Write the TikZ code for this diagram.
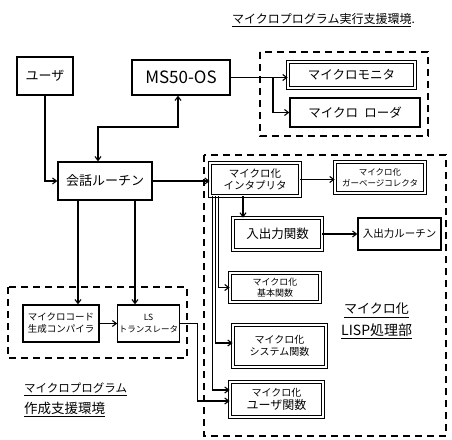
\documentclass[tikz,border=0pt]{standalone}
\usepackage{fontspec}
\setmainfont{Noto Sans CJK JP}
\usetikzlibrary{arrows.meta}
\tikzset{
  box/.style={draw, line width=1.2pt, inner sep=1pt, align=center, font=\fontsize{9}{11}\selectfont},
  dbox/.style={box, double, double distance=1.6pt, line width=0.8pt},
  grp/.style={draw, line width=1.3pt, dash pattern=on 7pt off 5pt},
  conn/.style={line width=1.1pt, -{Straight Barb[length=4pt,width=6pt]}},
  biconn/.style={line width=1.1pt, {Straight Barb[length=4pt,width=6pt]}-{Straight Barb[length=4pt,width=6pt]}},
  lbl/.style={align=left, inner sep=0pt},
  uline/.style={line width=1.1pt}
}
\begin{document}
\begin{tikzpicture}[x=1pt,y=-1pt]
\useasboundingbox[fill=white] (0,0) rectangle (452,439);

% group frames
\draw[grp] (260,52) rectangle (428,136);
\draw[grp] (204,155) rectangle (446,436);
\draw[grp] (8,287) rectangle (187,358);

% titles
\node[lbl, font=\fontsize{12}{14}\selectfont, anchor=west] (t1) at (232,19) {マイクロプログラム実行支援環境.};
\draw[uline] ([yshift=-2pt]t1.south west) -- ([yshift=-2pt,xshift=-4pt]t1.south east);
\node[lbl, font=\fontsize{13}{15}\selectfont, anchor=west] (t2a) at (344,309) {マイクロ化};
\draw[uline] ([yshift=-2pt]t2a.south west) -- ([yshift=-2pt]t2a.south east);
\node[lbl, font=\fontsize{14}{16}\selectfont, anchor=west] (t2b) at (341,330) {LISP処理部};
\draw[uline] ([yshift=-2pt]t2b.south west) -- ([yshift=-2pt]t2b.south east);
\node[lbl, font=\fontsize{11.5}{13}\selectfont, anchor=west] (t3a) at (24,388) {マイクロプログラム};
\draw[uline] ([yshift=-2pt]t3a.south west) -- ([yshift=-2pt]t3a.south east);
\node[lbl, font=\fontsize{13.5}{15}\selectfont, anchor=west] (t3b) at (24,408) {作成支援環境};
\draw[uline] ([yshift=-2pt]t3b.south west) -- ([yshift=-2pt]t3b.south east);

% nodes
\node[box, minimum width=56pt, minimum height=38pt, font=\fontsize{13}{15}\selectfont] (user) at (45,76) {ユーザ};
\node[box, minimum width=98pt, minimum height=35pt, font=\fontsize{17}{19}\selectfont] (os) at (181,77.5) {MS50-OS};
\node[dbox, minimum width=127pt, minimum height=26pt, font=\fontsize{12.5}{14}\selectfont] (mon) at (351.5,75) {マイクロモニタ};
\node[box, minimum width=130pt, minimum height=29pt, font=\fontsize{12.5}{14}\selectfont] (ldr) at (355,112.5) {マイクロ\enspace ローダ};
\node[box, minimum width=94pt, minimum height=38pt, font=\fontsize{13}{15}\selectfont] (kaiwa) at (105,181) {会話ルーチン};
\node[dbox, minimum width=90pt, minimum height=33pt, font=\fontsize{10.5}{12.5}\selectfont] (interp) at (255,179.5) {マイクロ化\\インタプリタ};
\node[dbox, minimum width=90pt, minimum height=31pt, font=\fontsize{8.5}{10.5}\selectfont] (gc) at (380,177.5) {マイクロ化\\ガーベージコレクタ};
\node[dbox, minimum width=89pt, minimum height=32pt, font=\fontsize{12.5}{14}\selectfont] (io) at (277.5,234) {入出力関数};
\node[box, minimum width=83pt, minimum height=32pt, font=\fontsize{10.5}{12}\selectfont] (ior) at (399.5,234) {入出力ルーチン};
\node[dbox, minimum width=90pt, minimum height=29pt, font=\fontsize{9}{10.5}\selectfont] (kihon) at (275,287.5) {マイクロ化\\基本関数};
\node[dbox, minimum width=93pt, minimum height=42pt, font=\fontsize{10}{12.5}\selectfont] (sys) at (279.5,346) {マイクロ化\\システム関数};
\node[dbox, minimum width=93pt, minimum height=35pt, font=\fontsize{10}{12.5}\selectfont] (ufn) at (276.5,399.5) {マイクロ化\\{\fontsize{12}{13}\selectfont ユーザ関数}};
\node[box, minimum width=76pt, minimum height=37pt, font=\fontsize{9.5}{12}\selectfont] (comp) at (61,323.5) {マイクロコード\\生成コンパイラ};
\node[box, minimum width=57pt, minimum height=37pt, font=\fontsize{8.5}{12}\selectfont] (ls) at (148.5,323.5) {LS\\トランスレータ};

% connectors
\coordinate (br) at (273,77.5);
\draw[conn] (os.east) -- (os.east -| mon.west);
\draw[conn] (br) |- (ldr.west);
\draw[biconn] ([xshift=-3pt]os.south) |- (98,127) -- ([xshift=-7pt]kaiwa.north);
\draw[conn] (user.south) |- (kaiwa.west);
\draw[conn] (kaiwa.east) -- (kaiwa.east -| interp.west);
\draw[conn] (interp.east) -- (interp.east -| gc.west);
\draw[conn] ([xshift=-12pt]interp.south) -- ([xshift=-12pt]interp.south |- io.north);
\draw[conn] (io.east) -- (io.east -| ior.west);
\draw[conn] ([xshift=9pt]interp.south west) |- (kihon.west);
\draw[conn] ([xshift=6pt]interp.south west) |- ([yshift=3pt]sys.west);
\draw[conn] ([xshift=2.5pt]interp.south west) |- ([yshift=9.5pt]ufn.west);
\draw[conn] (ls.east) -- ++(18,0) |- ([yshift=-1.5pt]ufn.west);
\draw[conn] ([xshift=-27pt]kaiwa.south) -- ([xshift=-27pt]kaiwa.south |- comp.north);
\draw[conn] ([xshift=30pt]kaiwa.south) -- ([xshift=30pt]kaiwa.south |- ls.north);
\draw[conn] (comp.east) -- (ls.west);
\end{tikzpicture}
\end{document}
